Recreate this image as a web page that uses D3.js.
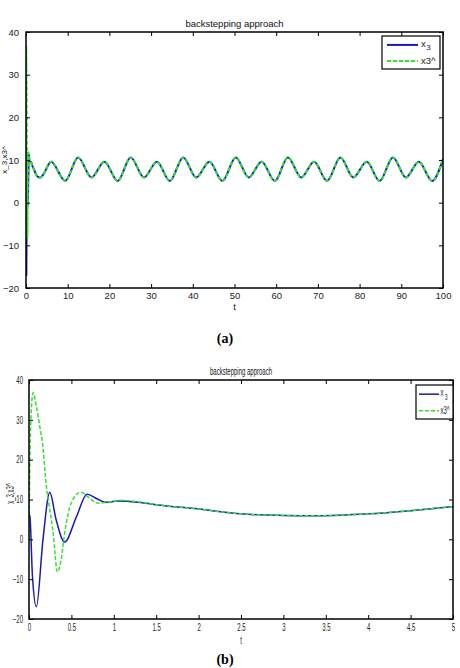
<!DOCTYPE html>
<html><head><meta charset="utf-8">
<script src="https://cdn.jsdelivr.net/npm/d3@7"></script>
<style>body{margin:0;background:#fff}svg{display:block}</style>
</head><body>
<script>
// ---- data ----
const chartTitle = "backstepping approach";
const yLabel = "x_3,x3^";
const xLabel = "t";
// transient + slow part of x3 over 0..5 s
const x3Time = [0, 0.012, 0.04, 0.087, 0.165, 0.245, 0.32, 0.42, 0.56, 0.685, 0.8, 0.9, 1.05, 1.25, 1.5, 2.0, 2.5, 3.0, 3.4, 4.0, 4.5, 5.0];
const x3Vals = [6.4, 5.5, -9, -16.9, 0, 11.8, 4.9, -0.7, 5.7, 11.3, 10.2, 9.3, 9.6, 9.4, 8.7, 7.6, 6.4, 6.0, 5.9, 6.4, 7.2, 8.2];
// observer estimate x3^ over 0..5 s (after 1.3 s it follows x3)
const x3hTime = [0, 0.015, 0.047, 0.09, 0.13, 0.16, 0.205, 0.24, 0.285, 0.335, 0.38, 0.42, 0.5, 0.61, 0.7, 0.81, 0.95, 1.1, 1.3, 1.5, 2.0, 2.5, 3.0, 3.4, 4.0, 4.5, 5.0];
const x3hVals = [0, 25, 36.8, 33, 28, 24, 13.3, 8.2, 1.6, -8.2, -5, 1.5, 9.2, 11.8, 10.6, 9.1, 9.4, 9.8, 9.4, 8.7, 7.6, 6.4, 6.0, 5.9, 6.4, 7.2, 8.2];
// long-run oscillation (both signals coincide), 6..100 s
const oscTime = [6.0, 9.4, 12.5, 15.7, 18.8, 22.0, 25.1, 28.3, 31.4, 34.5, 37.7, 40.8, 44.0, 47.1, 50.3, 53.4, 56.5, 59.7, 62.8, 66.0, 69.1, 72.2, 75.4, 78.5, 81.7, 84.8, 88.0, 91.1, 94.2, 97.4, 100];
const oscVals = [9.6, 5.1, 10.6, 5.9, 9.6, 5.1, 10.6, 5.9, 9.6, 5.1, 10.6, 5.9, 9.6, 5.1, 10.6, 5.9, 9.6, 5.1, 10.6, 5.9, 9.6, 5.1, 10.6, 5.9, 9.6, 5.1, 10.6, 5.9, 9.6, 5.1, 10.2];
const yTicks = [-20, -10, 0, 10, 20, 30, 40];
const xTicksA = [0, 10, 20, 30, 40, 50, 60, 70, 80, 90, 100];
const xTicksB = [0, 0.5, 1, 1.5, 2, 2.5, 3, 3.5, 4, 4.5, 5];
const xTickLabelsB = ["0", "0.5", "1", "1.5", "2", "2.5", "3", "3.5", "4", "4.5", "5"];
const captions = ["(a)", "(b)"];

const zip = (t, v) => t.map((d, i) => [d, v[i]]);
const blueA = zip(x3Time, x3Vals).concat(zip(oscTime, oscVals));
const greenA = zip(x3hTime, x3hVals).concat(zip(oscTime, oscVals));
const blueB = zip(x3Time, x3Vals);
const greenB = zip(x3hTime, x3hVals);

const svg = d3.select("body").append("svg").attr("width", 460).attr("height", 668);

function panel(o) {
  const x = d3.scaleLinear().domain(o.xDomain).range([o.left, o.right]);
  const y = d3.scaleLinear().domain([-20, 40]).range([o.bottom, o.top]);
  const g = svg.append("g");
  const clipId = "clip" + o.id;
  g.append("clipPath").attr("id", clipId).append("rect")
    .attr("x", o.left).attr("y", o.top).attr("width", o.right - o.left).attr("height", o.bottom - o.top);
  const line = d3.line().x(d => x(d[0])).y(d => y(d[1])).curve(d3.curveMonotoneX);
  const lines = g.append("g").attr("clip-path", `url(#${clipId})`);
  lines.append("path").attr("d", line(o.blue)).attr("fill", "none")
    .attr("stroke", "#1a1ab8").attr("stroke-width", o.lw);
  lines.append("path").attr("d", line(o.green)).attr("fill", "none")
    .attr("stroke", "#33e033").attr("stroke-width", o.lw).attr("stroke-dasharray", o.dash);

  const tickLen = 4;
  const font = o.font;
  const fmtX = (d, i) => o.xLabels ? o.xLabels[i] : String(d);
  g.append("g").attr("transform", `translate(0,${o.bottom})`)
    .call(d3.axisBottom(x).tickValues(o.xTicks).tickSize(-tickLen).tickPadding(o.xPad).tickFormat(fmtX))
    .call(s => s.select(".domain").remove())
    .call(s => s.selectAll("text").attr("font-family", font).attr("font-size", o.fs).attr("fill", "#222"));
  g.append("g").attr("transform", `translate(0,${o.top})`)
    .call(d3.axisTop(x).tickValues(o.xTicks).tickSize(-tickLen).tickFormat(""))
    .call(s => s.select(".domain").remove());
  g.append("g").attr("transform", `translate(${o.left},0)`)
    .call(d3.axisLeft(y).tickValues(yTicks).tickSize(-tickLen).tickPadding(o.yPad))
    .call(s => s.select(".domain").remove())
    .call(s => s.selectAll("text").attr("font-family", font).attr("font-size", o.fs).attr("fill", "#222"));
  g.append("g").attr("transform", `translate(${o.right},0)`)
    .call(d3.axisRight(y).tickValues(yTicks).tickSize(-tickLen).tickFormat(""))
    .call(s => s.select(".domain").remove());
  g.selectAll(".tick line").attr("stroke", "#000");

  g.append("rect").attr("x", o.left).attr("y", o.top).attr("width", o.right - o.left).attr("height", o.bottom - o.top)
    .attr("fill", "none").attr("stroke", "#000").attr("stroke-width", o.frame);

  g.append("text").attr("x", (o.left + o.right) / 2).attr("y", o.top - 5).attr("text-anchor", "middle")
    .attr("font-family", font).attr("font-size", o.fs).attr("fill", "#111").text(chartTitle);
  g.append("text").attr("x", (o.left + o.right) / 2).attr("y", o.bottom + o.xlabOff).attr("text-anchor", "middle")
    .attr("font-family", font).attr("font-size", o.fs).attr("fill", "#222").text(xLabel);
  g.append("text").attr("transform", `translate(${o.ylabX},${(o.top + o.bottom) / 2 + o.ylabDy}) rotate(-90)`)
    .attr("text-anchor", "middle").attr("font-family", font).attr("font-size", o.ylabFs).attr("fill", "#222").text(yLabel);

  // legend
  const L = o.legend;
  g.append("rect").attr("x", L.x).attr("y", L.y).attr("width", L.w).attr("height", L.h)
    .attr("fill", "#fff").attr("stroke", "#000").attr("stroke-width", 1.2);
  const r1 = L.y + L.h * 0.27, r2 = L.y + L.h * 0.76;
  g.append("line").attr("x1", L.lx1).attr("x2", L.lx2).attr("y1", r1).attr("y2", r1)
    .attr("stroke", "#1a1ab8").attr("stroke-width", o.lw);
  g.append("line").attr("x1", L.lx1).attr("x2", L.lx2).attr("y1", r2).attr("y2", r2)
    .attr("stroke", "#33e033").attr("stroke-width", o.lw).attr("stroke-dasharray", o.dash);
  g.append("text").attr("x", L.tx).attr("y", r1 + 2).attr("font-family", font).attr("font-size", o.fs).attr("fill", "#222").text("x");
  g.append("text").attr("x", L.tx + L.subDx).attr("y", r1 + 5.5).attr("font-family", font).attr("font-size", o.fs - 1.5).attr("fill", "#222").text("3");
  g.append("text").attr("x", L.tx).attr("y", r2 + 3).attr("font-family", font).attr("font-size", o.fs).attr("fill", "#222").text("x3^");

  // condensed lettering (as in the reference's lower panel)
  if (o.condense) {
    g.selectAll("text").each(function () {
      const len = this.getComputedTextLength();
      if (len > 0) d3.select(this).attr("textLength", len * o.condense).attr("lengthAdjust", "spacingAndGlyphs");
    });
  }
}

panel({
  id: "a", xDomain: [0, 100], left: 26, right: 443, top: 32, bottom: 288,
  blue: blueA, green: greenA, lw: 2, dash: "4,2", frame: 1.5,
  xTicks: xTicksA, font: "Liberation Sans, Arial, sans-serif", fs: 9.5,
  xPad: 4, yPad: 7,
  xlabOff: 22, ylabX: 7, ylabDy: 0, ylabFs: 8,
  legend: { x: 382, y: 36, w: 58, h: 33, lx1: 387, lx2: 418, tx: 421, subDx: 5.2 }
});
panel({
  id: "b", xDomain: [0, 5], left: 29, right: 453, top: 380, bottom: 619,
  blue: blueB, green: greenB, lw: 1.5, dash: "4,2", frame: 1.5,
  xTicks: xTicksB, xLabels: xTickLabelsB, font: "Liberation Sans, Arial, sans-serif", fs: 10,
  xPad: 5, yPad: 6, condense: 0.6,
  xlabOff: 25, ylabX: 14, ylabDy: -6, ylabFs: 10,
  legend: { x: 416, y: 385, w: 37, h: 34, lx1: 419, lx2: 439, tx: 440.5, subDx: 4.2 }
});

svg.append("text").attr("x", 225).attr("y", 343).attr("text-anchor", "middle")
  .attr("font-family", "Liberation Serif, Times New Roman, serif").attr("font-weight", "bold").attr("font-size", 14).text(captions[0]);
svg.append("text").attr("x", 225).attr("y", 664).attr("text-anchor", "middle")
  .attr("font-family", "Liberation Serif, Times New Roman, serif").attr("font-weight", "bold").attr("font-size", 14).text(captions[1]);
</script>
</body></html>
